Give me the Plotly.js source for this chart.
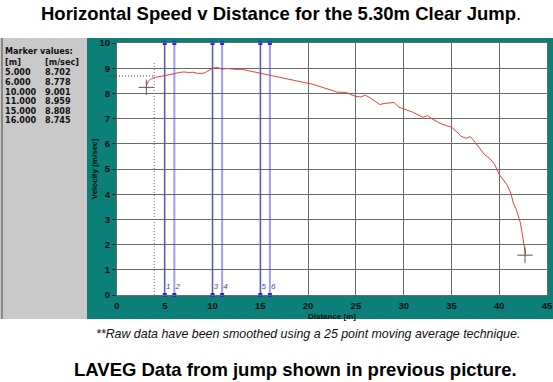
<!DOCTYPE html>
<html>
<head>
<meta charset="utf-8">
<script src="https://cdn.plot.ly/plotly-3.0.1.min.js"></script>
<style>
html,body{margin:0;padding:0;background:#fff;}
#chart{width:553px;height:382px;}
</style>
</head>
<body>
<div id="chart"></div>
<script>
// Horizontal speed curve (smoothed LAVEG data)
const distance = [3.1,3.3,3.6,4.0,4.5,5.0,5.5,6.0,6.5,7.0,7.5,8.0,8.5,9.0,9.3,9.6,10.0,10.5,11.0,11.5,12.0,12.5,13.0,13.5,14.0,14.5,15.0,15.5,16.0,16.5,17.0,17.5,18.0,18.5,19.0,19.5,20.0,20.5,21.0,21.5,22.0,22.5,23.0,23.5,24.0,24.5,25.0,25.5,26.0,26.5,27.0,27.5,28.0,28.5,29.0,29.5,30.0,30.5,31.0,31.5,32.0,32.5,33.0,33.5,34.0,34.5,35.0,35.5,36.0,36.5,37.0,37.5,38.0,38.5,39.0,39.5,40.0,40.4,40.8,41.2,41.5,41.8,42.0,42.2,42.4,42.6,42.75];
const velocity = [8.33,8.50,8.58,8.64,8.67,8.70,8.73,8.78,8.83,8.85,8.83,8.84,8.79,8.80,8.84,8.90,9.00,9.03,8.96,8.99,8.97,8.95,8.96,8.92,8.89,8.85,8.81,8.78,8.745,8.70,8.65,8.62,8.58,8.53,8.49,8.45,8.40,8.36,8.30,8.25,8.18,8.12,8.05,8.03,8.04,7.95,7.88,7.86,7.93,7.82,7.70,7.56,7.60,7.62,7.64,7.45,7.38,7.33,7.25,7.15,7.05,7.12,6.98,6.88,6.78,6.72,6.66,6.50,6.30,6.22,6.28,6.05,5.80,5.55,5.42,5.20,4.78,4.58,4.38,4.05,3.62,3.38,3.10,2.88,2.45,2.05,1.62];

// Marker positions and values
const markerIds = ["1","2","3","4","5","6"];
const markerDist = [5.0,6.0,10.0,11.0,15.0,16.0];
const markerVel = [8.702,8.778,9.001,8.959,8.808,8.745];

// Cursor crosses at start and end of curve
const crossX = [3.07,42.7];
const crossY = [8.24,1.58];

// Reference cursor (dotted)
const cursorX = 3.9;
const cursorYTop = 9.26;
const cursorYLevel = 8.69;

const xTicks = [0,5,10,15,20,25,30,35,40,45];
const yTicks = [0,1,2,3,4,5,6,7,8,9,10];

const W = 553, H = 382;
const L = 117, R = 6, T = 43, B = 87;
const pw = W - L - R, ph = H - T - B;
const px = v => (v - L) / pw;          // pixel x -> paper
const py = v => (H - B - v) / ph;      // pixel y -> paper

const traces = [];
markerDist.forEach((m) => {
  traces.push({
    x: [m, m], y: [0, 10], type: 'scatter', mode: 'lines+markers',
    line: {color: 'rgba(80,80,225,0.55)', width: 2},
    marker: {symbol: 'square', size: 4, color: '#2a2ad0'},
    hoverinfo: 'skip', showlegend: false, cliponaxis: false
  });
});
traces.push({
  x: markerDist.map(m => m + 0.35), y: markerDist.map(() => 0.3),
  text: markerIds, type: 'scatter', mode: 'text',
  textfont: {family: 'Liberation Sans, Arial, sans-serif', size: 8, color: '#4a4aa0', style: 'italic'},
  hoverinfo: 'skip', showlegend: false
});
traces.push({
  x: distance, y: velocity, type: 'scatter', mode: 'lines',
  line: {color: '#e8403a', width: 1},
  hoverinfo: 'skip', showlegend: false
});
traces.push({
  x: crossX, y: crossY, type: 'scatter', mode: 'markers',
  marker: {symbol: 'cross-thin', size: 11, line: {color: '#555', width: 1}},
  hoverinfo: 'skip', showlegend: false
});

const panelFont = {family: 'DejaVu Sans, sans-serif', size: 8.1, color: '#111'};
const annotations = [
  {text: '<b>Horizontal Speed v Distance for the 5.30m Clear Jump</b>.', xref: 'paper', yref: 'paper',
   x: px(281), y: py(14), showarrow: false, xanchor: 'center', yanchor: 'middle',
   font: {family: 'Liberation Sans, Arial, sans-serif', size: 18.5, color: '#000'}},
  {text: '<i>**Raw data have been smoothed using a 25 point moving average technique.</i>', xref: 'paper', yref: 'paper',
   x: px(307.5), y: py(333.5), showarrow: false, xanchor: 'center', yanchor: 'middle',
   font: {family: 'Liberation Sans, Arial, sans-serif', size: 12.4, color: '#111'}},
  {text: '<b>LAVEG Data from jump shown in previous picture.</b>', xref: 'paper', yref: 'paper',
   x: px(295), y: py(369.5), showarrow: false, xanchor: 'center', yanchor: 'middle',
   font: {family: 'Liberation Sans, Arial, sans-serif', size: 18.5, color: '#000'}},
  {text: '<b>Marker values:</b>', xref: 'paper', yref: 'paper', x: px(4), y: py(51),
   showarrow: false, xanchor: 'left', yanchor: 'middle', font: panelFont, borderpad: 0},
  {text: '<b>[m]</b>', xref: 'paper', yref: 'paper', x: px(4), y: py(62.5),
   showarrow: false, xanchor: 'left', yanchor: 'middle', font: panelFont, borderpad: 0},
  {text: '<b>[m/sec]</b>', xref: 'paper', yref: 'paper', x: px(44), y: py(62.5),
   showarrow: false, xanchor: 'left', yanchor: 'middle', font: panelFont, borderpad: 0}
];
markerDist.forEach((m, i) => {
  const yy = 72.3 + i * 9.6;
  annotations.push({text: '<b>' + m.toFixed(3) + '</b>', xref: 'paper', yref: 'paper', x: px(4), y: py(yy),
    showarrow: false, xanchor: 'left', yanchor: 'middle', font: panelFont, borderpad: 0});
  annotations.push({text: '<b>' + markerVel[i].toFixed(3) + '</b>', xref: 'paper', yref: 'paper', x: px(44), y: py(yy),
    showarrow: false, xanchor: 'left', yanchor: 'middle', font: panelFont, borderpad: 0});
});

const shapes = [
  {type: 'rect', xref: 'paper', yref: 'paper', x0: px(87), x1: px(553), y0: py(319), y1: py(38),
   fillcolor: '#0b7f78', line: {width: 0}, layer: 'below'},
  {type: 'rect', xref: 'paper', yref: 'paper', x0: px(0), x1: px(87), y0: py(319), y1: py(38),
   fillcolor: '#c9c9c9', line: {width: 0}, layer: 'below'},
  {type: 'line', xref: 'paper', yref: 'paper', x0: px(2), x1: px(2), y0: py(319), y1: py(38),
   line: {color: '#444', width: 1}, layer: 'below'},
  {type: 'rect', xref: 'paper', yref: 'paper', x0: 0, x1: 1, y0: 0, y1: 1,
   fillcolor: '#ffffff', line: {width: 0}, layer: 'below'},
  {type: 'line', xref: 'x', yref: 'y', x0: cursorX, x1: cursorX, y0: 0, y1: cursorYTop,
   line: {color: '#777', width: 1, dash: '1px,2px'}},
  {type: 'line', xref: 'paper', yref: 'y', x0: px(107), x1: cursorX / 45, y0: cursorYLevel, y1: cursorYLevel,
   line: {color: '#333', width: 1, dash: '1px,2px'}}
];

const tickFont = {family: 'Liberation Sans, Arial, sans-serif', size: 9.5, color: '#111', weight: 'bold'};
const layout = {
  width: W, height: H,
  margin: {l: L, r: R, t: T, b: B, pad: 0},
  paper_bgcolor: '#ffffff', plot_bgcolor: 'rgba(0,0,0,0)',
  showlegend: false,
  xaxis: {
    range: [0, 45], tickvals: xTicks, ticktext: xTicks.map(String),
    showgrid: true, gridcolor: '#6a6a6a', gridwidth: 1, zeroline: false,
    showline: true, mirror: true, linecolor: '#6a6a6a', linewidth: 1,
    ticks: 'outside', ticklen: 2, tickcolor: '#0b7f78',
    tickfont: tickFont, fixedrange: true,
    title: {text: '<b>Distance [m]</b>', font: {family: 'Liberation Sans, Arial, sans-serif', size: 8, color: '#111'}, standoff: 2}
  },
  yaxis: {
    range: [0, 10], tickvals: yTicks, ticktext: yTicks.map(String),
    showgrid: true, gridcolor: '#6a6a6a', gridwidth: 1, zeroline: false,
    showline: true, mirror: true, linecolor: '#6a6a6a', linewidth: 1,
    ticks: 'outside', ticklen: 4, tickcolor: '#222',
    tickfont: tickFont, fixedrange: true,
    title: {text: '<b>Velocity [m/sec]</b>', font: {family: 'Liberation Sans, Arial, sans-serif', size: 8, color: '#111'}, standoff: 0}
  },
  shapes: shapes,
  annotations: annotations
};

Plotly.newPlot('chart', traces, layout, {staticPlot: true, displayModeBar: false});
</script>
</body>
</html>
